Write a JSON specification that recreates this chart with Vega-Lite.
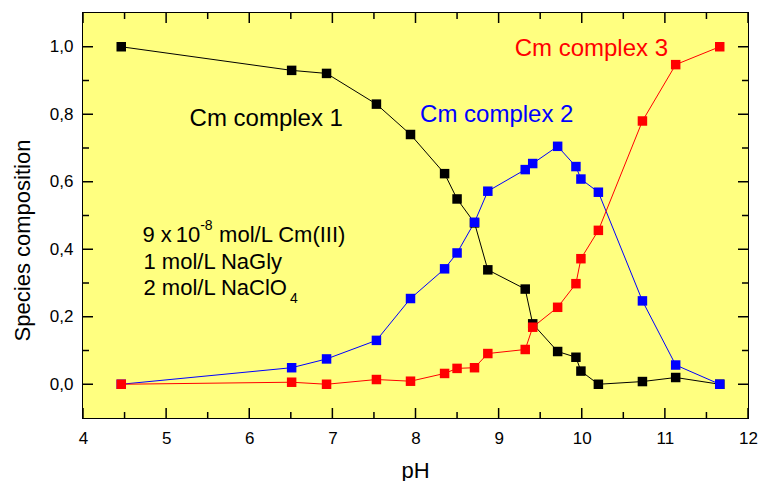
{
  "$schema": "https://vega.github.io/schema/vega-lite/v6.json",
  "width": 665,
  "height": 405,
  "autosize": {"type": "none"},
  "padding": {"left": 83, "top": 13, "right": 12, "bottom": 63},
  "background": "white",
  "config": {
    "view": {"fill": null, "stroke": "black", "strokeWidth": 2},
    "font": "Liberation Sans",
    "axis": {"grid": false, "domain": false, "ticks": false, "labelColor": "black", "titleColor": "black", "labelFont": "Liberation Sans", "titleFont": "Liberation Sans", "titleFontWeight": "normal", "labelFontSize": 17, "titleFontSize": 22}
  },
  "datasets": {
    "plotarea": [{"region": "plot"}],
    "series": [
      {"pH": 4.46, "value": 1.0, "series": "Cm complex 1"},
      {"pH": 6.51, "value": 0.930, "series": "Cm complex 1"},
      {"pH": 6.93, "value": 0.921, "series": "Cm complex 1"},
      {"pH": 7.53, "value": 0.830, "series": "Cm complex 1"},
      {"pH": 7.94, "value": 0.740, "series": "Cm complex 1"},
      {"pH": 8.35, "value": 0.624, "series": "Cm complex 1"},
      {"pH": 8.50, "value": 0.549, "series": "Cm complex 1"},
      {"pH": 8.71, "value": 0.478, "series": "Cm complex 1"},
      {"pH": 8.87, "value": 0.339, "series": "Cm complex 1"},
      {"pH": 9.32, "value": 0.282, "series": "Cm complex 1"},
      {"pH": 9.41, "value": 0.179, "series": "Cm complex 1"},
      {"pH": 9.71, "value": 0.097, "series": "Cm complex 1"},
      {"pH": 9.93, "value": 0.080, "series": "Cm complex 1"},
      {"pH": 9.99, "value": 0.039, "series": "Cm complex 1"},
      {"pH": 10.20, "value": 0.0, "series": "Cm complex 1"},
      {"pH": 10.73, "value": 0.008, "series": "Cm complex 1"},
      {"pH": 11.13, "value": 0.020, "series": "Cm complex 1"},
      {"pH": 11.66, "value": 0.0, "series": "Cm complex 1"},
      {"pH": 4.46, "value": 0.0, "series": "Cm complex 2"},
      {"pH": 6.51, "value": 0.049, "series": "Cm complex 2"},
      {"pH": 6.93, "value": 0.075, "series": "Cm complex 2"},
      {"pH": 7.53, "value": 0.130, "series": "Cm complex 2"},
      {"pH": 7.94, "value": 0.254, "series": "Cm complex 2"},
      {"pH": 8.35, "value": 0.342, "series": "Cm complex 2"},
      {"pH": 8.50, "value": 0.389, "series": "Cm complex 2"},
      {"pH": 8.71, "value": 0.480, "series": "Cm complex 2"},
      {"pH": 8.87, "value": 0.572, "series": "Cm complex 2"},
      {"pH": 9.32, "value": 0.636, "series": "Cm complex 2"},
      {"pH": 9.41, "value": 0.654, "series": "Cm complex 2"},
      {"pH": 9.71, "value": 0.705, "series": "Cm complex 2"},
      {"pH": 9.93, "value": 0.645, "series": "Cm complex 2"},
      {"pH": 9.99, "value": 0.608, "series": "Cm complex 2"},
      {"pH": 10.20, "value": 0.569, "series": "Cm complex 2"},
      {"pH": 10.73, "value": 0.247, "series": "Cm complex 2"},
      {"pH": 11.13, "value": 0.057, "series": "Cm complex 2"},
      {"pH": 11.66, "value": 0.0, "series": "Cm complex 2"},
      {"pH": 4.46, "value": 0.0, "series": "Cm complex 3"},
      {"pH": 6.51, "value": 0.006, "series": "Cm complex 3"},
      {"pH": 6.93, "value": 0.0, "series": "Cm complex 3"},
      {"pH": 7.53, "value": 0.014, "series": "Cm complex 3"},
      {"pH": 7.94, "value": 0.009, "series": "Cm complex 3"},
      {"pH": 8.35, "value": 0.032, "series": "Cm complex 3"},
      {"pH": 8.50, "value": 0.047, "series": "Cm complex 3"},
      {"pH": 8.71, "value": 0.049, "series": "Cm complex 3"},
      {"pH": 8.87, "value": 0.091, "series": "Cm complex 3"},
      {"pH": 9.32, "value": 0.103, "series": "Cm complex 3"},
      {"pH": 9.41, "value": 0.169, "series": "Cm complex 3"},
      {"pH": 9.71, "value": 0.228, "series": "Cm complex 3"},
      {"pH": 9.93, "value": 0.298, "series": "Cm complex 3"},
      {"pH": 9.99, "value": 0.372, "series": "Cm complex 3"},
      {"pH": 10.20, "value": 0.456, "series": "Cm complex 3"},
      {"pH": 10.73, "value": 0.780, "series": "Cm complex 3"},
      {"pH": 11.13, "value": 0.947, "series": "Cm complex 3"},
      {"pH": 11.66, "value": 1.0, "series": "Cm complex 3"}
    ],
    "xticks": [
      {"pH": 4, "kind": "major"}, {"pH": 4.5, "kind": "minor"}, {"pH": 5, "kind": "major"}, {"pH": 5.5, "kind": "minor"},
      {"pH": 6, "kind": "major"}, {"pH": 6.5, "kind": "minor"}, {"pH": 7, "kind": "major"}, {"pH": 7.5, "kind": "minor"},
      {"pH": 8, "kind": "major"}, {"pH": 8.5, "kind": "minor"}, {"pH": 9, "kind": "major"}, {"pH": 9.5, "kind": "minor"},
      {"pH": 10, "kind": "major"}, {"pH": 10.5, "kind": "minor"}, {"pH": 11, "kind": "major"}, {"pH": 11.5, "kind": "minor"},
      {"pH": 12, "kind": "major"}
    ],
    "yticks": [
      {"value": 0.0, "kind": "major"}, {"value": 0.1, "kind": "minor"}, {"value": 0.2, "kind": "major"}, {"value": 0.3, "kind": "minor"},
      {"value": 0.4, "kind": "major"}, {"value": 0.5, "kind": "minor"}, {"value": 0.6, "kind": "major"}, {"value": 0.7, "kind": "minor"},
      {"value": 0.8, "kind": "major"}, {"value": 0.9, "kind": "minor"}, {"value": 1.0, "kind": "major"}
    ],
    "labels": [
      {"pH": 5.282, "value": 0.765, "text": "Cm complex 1", "series": "Cm complex 1"},
      {"pH": 8.055, "value": 0.778, "text": "Cm complex 2", "series": "Cm complex 2"},
      {"pH": 9.193, "value": 0.974, "text": "Cm complex 3", "series": "Cm complex 3"}
    ],
    "block": [
      {"pH": 4.716, "value": 0.421, "text": "9 x", "series": "Cm complex 1"},
      {"pH": 5.116, "value": 0.421, "text": "10", "series": "Cm complex 1"},
      {"pH": 5.637, "value": 0.421, "text": "mol/L Cm(III)", "series": "Cm complex 1"},
      {"pH": 4.728, "value": 0.342, "text": "1 mol/L NaGly", "series": "Cm complex 1"},
      {"pH": 4.728, "value": 0.263, "text": "2 mol/L NaClO", "series": "Cm complex 1"}
    ],
    "scripts": [
      {"pH": 5.41, "value": 0.4585, "text": "-8", "series": "Cm complex 1"},
      {"pH": 6.49, "value": 0.241, "text": "4", "series": "Cm complex 1"}
    ]
  },
  "layer": [
    {
      "data": {"name": "plotarea"},
      "mark": {"type": "rect", "color": "#FFFF80", "opacity": 1},
      "encoding": {
        "x": {"datum": 4, "type": "quantitative"},
        "x2": {"datum": 12},
        "y": {"datum": -0.1, "type": "quantitative"},
        "y2": {"datum": 1.1}
      }
    },
    {
      "data": {"name": "series"},
      "mark": {"type": "line", "strokeWidth": 1},
      "encoding": {
        "x": {"field": "pH", "type": "quantitative", "scale": {"domain": [4, 12], "nice": false, "zero": false},
          "axis": {"orient": "bottom", "title": "pH", "values": [4, 5, 6, 7, 8, 9, 10, 11, 12], "format": "d",
            "labelPadding": 12, "labelFlush": false, "labelOverlap": false,
            "titleX": 332, "titleY": 59, "titleBaseline": "alphabetic", "titleAlign": "center"}},
        "y": {"field": "value", "type": "quantitative", "scale": {"domain": [-0.1, 1.1], "nice": false, "zero": false},
          "axis": {"orient": "left", "title": "Species composition", "values": [0, 0.2, 0.4, 0.6, 0.8, 1.0],
            "labelExpr": "replace(format(datum.value, '.1f'), '.', ',')",
            "labelPadding": 10, "labelFlush": false, "labelOverlap": false,
            "titleX": -54, "titleY": 227, "titleAngle": -90, "titleBaseline": "alphabetic", "titleAlign": "center"}},
        "color": {"field": "series", "type": "nominal", "scale": {"domain": ["Cm complex 1", "Cm complex 2", "Cm complex 3"], "range": ["#000000", "#0000FF", "#FF0000"]}, "legend": null}
      }
    },
    {
      "data": {"name": "xticks"},
      "transform": [{"filter": "datum.kind == 'major'"}],
      "mark": {"type": "rule", "color": "black", "strokeWidth": 1.5, "y2Offset": -10},
      "encoding": {
        "x": {"field": "pH", "type": "quantitative"},
        "y": {"datum": -0.1, "type": "quantitative"},
        "y2": {"datum": -0.1}
      }
    },
    {
      "data": {"name": "xticks"},
      "transform": [{"filter": "datum.kind == 'minor'"}],
      "mark": {"type": "rule", "color": "black", "strokeWidth": 1.5, "y2Offset": -6},
      "encoding": {
        "x": {"field": "pH", "type": "quantitative"},
        "y": {"datum": -0.1, "type": "quantitative"},
        "y2": {"datum": -0.1}
      }
    },
    {
      "data": {"name": "xticks"},
      "transform": [{"filter": "datum.kind == 'major'"}],
      "mark": {"type": "rule", "color": "black", "strokeWidth": 1.5, "y2Offset": 10},
      "encoding": {
        "x": {"field": "pH", "type": "quantitative"},
        "y": {"datum": 1.1, "type": "quantitative"},
        "y2": {"datum": 1.1}
      }
    },
    {
      "data": {"name": "xticks"},
      "transform": [{"filter": "datum.kind == 'minor'"}],
      "mark": {"type": "rule", "color": "black", "strokeWidth": 1.5, "y2Offset": 6},
      "encoding": {
        "x": {"field": "pH", "type": "quantitative"},
        "y": {"datum": 1.1, "type": "quantitative"},
        "y2": {"datum": 1.1}
      }
    },
    {
      "data": {"name": "yticks"},
      "transform": [{"filter": "datum.kind == 'major'"}],
      "mark": {"type": "rule", "color": "black", "strokeWidth": 1.5, "x2Offset": 10},
      "encoding": {
        "y": {"field": "value", "type": "quantitative"},
        "x": {"datum": 4, "type": "quantitative"},
        "x2": {"datum": 4}
      }
    },
    {
      "data": {"name": "yticks"},
      "transform": [{"filter": "datum.kind == 'minor'"}],
      "mark": {"type": "rule", "color": "black", "strokeWidth": 1.5, "x2Offset": 6},
      "encoding": {
        "y": {"field": "value", "type": "quantitative"},
        "x": {"datum": 4, "type": "quantitative"},
        "x2": {"datum": 4}
      }
    },
    {
      "data": {"name": "yticks"},
      "transform": [{"filter": "datum.kind == 'major'"}],
      "mark": {"type": "rule", "color": "black", "strokeWidth": 1.5, "x2Offset": -10},
      "encoding": {
        "y": {"field": "value", "type": "quantitative"},
        "x": {"datum": 12, "type": "quantitative"},
        "x2": {"datum": 12}
      }
    },
    {
      "data": {"name": "yticks"},
      "transform": [{"filter": "datum.kind == 'minor'"}],
      "mark": {"type": "rule", "color": "black", "strokeWidth": 1.5, "x2Offset": -6},
      "encoding": {
        "y": {"field": "value", "type": "quantitative"},
        "x": {"datum": 12, "type": "quantitative"},
        "x2": {"datum": 12}
      }
    },
    {
      "data": {"name": "series"},
      "mark": {"type": "point", "shape": "square", "filled": true, "size": 90, "opacity": 1},
      "encoding": {
        "x": {"field": "pH", "type": "quantitative"},
        "y": {"field": "value", "type": "quantitative"},
        "color": {"field": "series", "type": "nominal", "legend": null}
      }
    },
    {
      "data": {"name": "labels"},
      "mark": {"type": "text", "align": "left", "baseline": "alphabetic", "fontSize": 24, "font": "Liberation Sans"},
      "encoding": {
        "x": {"field": "pH", "type": "quantitative"},
        "y": {"field": "value", "type": "quantitative"},
        "text": {"field": "text", "type": "nominal"},
        "color": {"field": "series", "type": "nominal", "legend": null}
      }
    },
    {
      "data": {"name": "block"},
      "mark": {"type": "text", "align": "left", "baseline": "alphabetic", "fontSize": 22, "font": "Liberation Sans"},
      "encoding": {
        "x": {"field": "pH", "type": "quantitative"},
        "y": {"field": "value", "type": "quantitative"},
        "text": {"field": "text", "type": "nominal"},
        "color": {"field": "series", "type": "nominal", "legend": null}
      }
    },
    {
      "data": {"name": "scripts"},
      "mark": {"type": "text", "align": "left", "baseline": "alphabetic", "fontSize": 14, "font": "Liberation Sans"},
      "encoding": {
        "x": {"field": "pH", "type": "quantitative"},
        "y": {"field": "value", "type": "quantitative"},
        "text": {"field": "text", "type": "nominal"},
        "color": {"field": "series", "type": "nominal", "legend": null}
      }
    }
  ]
}
